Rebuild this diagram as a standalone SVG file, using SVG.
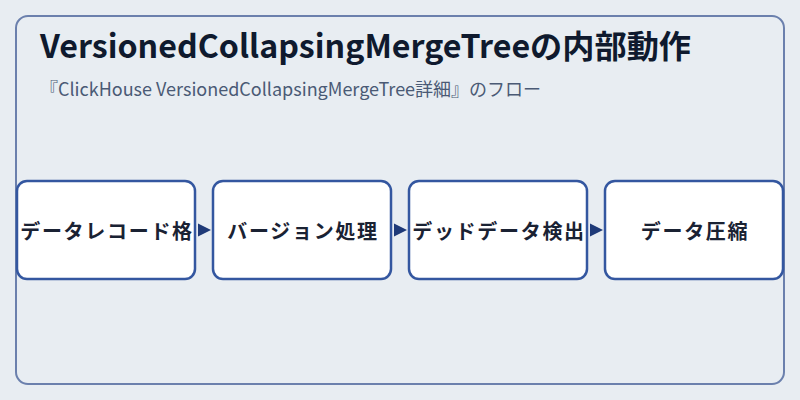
<svg xmlns="http://www.w3.org/2000/svg" width="800" height="400" viewBox="0 0 800 400">
<style>
.node rect{fill:#ffffff;stroke:#3457a0;stroke-width:2.5}
.node text{font-family:"Noto Sans CJK JP","Noto Sans",sans-serif;font-size:20px;font-weight:bold;letter-spacing:1.7px;fill:#1a2233;text-anchor:middle;dominant-baseline:central}
.title{font-family:"Noto Sans CJK JP","Noto Sans",sans-serif;font-size:32.2px;font-weight:bold;fill:#0f1a2e}
.sub{font-family:"Noto Sans CJK JP","Noto Sans",sans-serif;font-size:18px;fill:#4a5a75}
</style>
<defs>
<marker id="arr" viewBox="0 0 10 10" refX="10" refY="5" markerWidth="13" markerHeight="14" markerUnits="userSpaceOnUse" orient="auto">
<path d="M0,0 L10,5 L0,10 Z" fill="#1f3a78"/>
</marker>
</defs>
<rect width="800" height="400" fill="#e8edf2"/>
<rect x="16" y="16" width="768" height="368" rx="12" fill="#e8edf2" stroke="#6b80ad" stroke-width="2"/>
<text class="title" x="40" y="58">VersionedCollapsingMergeTreeの内部動作</text>
<text class="sub" x="40" y="96">『ClickHouse VersionedCollapsingMergeTree詳細』のフロー</text>
<g id="connectors">
<line x1="196" y1="230" x2="211" y2="230" stroke="#1f3a78" stroke-width="0" marker-end="url(#arr)"/>
<line x1="392" y1="230" x2="407" y2="230" stroke="#1f3a78" stroke-width="0" marker-end="url(#arr)"/>
<line x1="588" y1="230" x2="603" y2="230" stroke="#1f3a78" stroke-width="0" marker-end="url(#arr)"/>
</g>
<g id="node1" class="node"><rect x="17" y="181" width="178" height="98" rx="10"/><text x="107" y="230">データレコード格</text></g>
<g id="node2" class="node"><rect x="213" y="181" width="178" height="98" rx="10"/><text x="303" y="230">バージョン処理</text></g>
<g id="node3" class="node"><rect x="409" y="181" width="178" height="98" rx="10"/><text x="499" y="230">デッドデータ検出</text></g>
<g id="node4" class="node"><rect x="605" y="181" width="178" height="98" rx="10"/><text x="695" y="230">データ圧縮</text></g>
</svg>
